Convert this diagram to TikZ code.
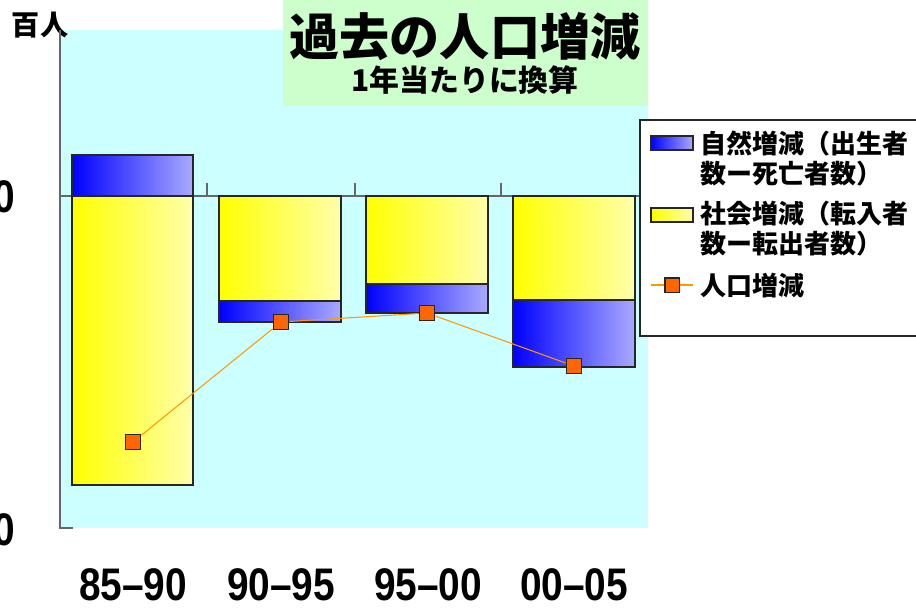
\documentclass[tikz,border=0pt]{standalone}
\usepackage{fontspec}
\newfontfamily\jp{Noto Sans CJK JP}
\newfontfamily\numfont{Liberation Sans}
\usetikzlibrary{positioning}
\definecolor{plotbg}{RGB}{204,255,255}
\definecolor{titlebg}{RGB}{204,255,204}
\definecolor{paleblue}{RGB}{170,170,255}
\definecolor{paleyellow}{RGB}{255,255,170}
\definecolor{markorange}{RGB}{255,102,0}
\definecolor{lineorange}{RGB}{255,153,0}
\tikzstyle{natbar} = [draw=black!85, line width=0.8pt, left color=blue, right color=paleblue]
\tikzstyle{socbar} = [draw=black!85, line width=0.8pt, left color=yellow, right color=paleyellow]
\tikzstyle{popmark} = [draw=black!85, line width=0.6pt, fill=markorange,
    rectangle, minimum size=9pt, inner sep=0pt]
\tikzstyle{popline} = [draw=lineorange, line width=0.6pt]
\tikzstyle{axisline} = [draw=black!60, line width=0.7pt]
\tikzstyle{period} = [font=\numfont\bfseries\fontsize{26}{26}\selectfont, xscale=0.85]
\tikzstyle{legtext} = [font=\jp\bfseries\fontsize{14.8}{17}\selectfont, anchor=west,
    align=left, inner sep=0pt]

\begin{document}
\begin{tikzpicture}[x=0.02cm, y=-0.02cm]
\useasboundingbox (0,0) rectangle (916,609);
\clip (0,0) rectangle (916,609);

% plot area and title
\fill[plotbg] (60,30) rectangle (648,528);
\fill[titlebg] (283,0) rectangle (648,106);
\node[font=\jp\bfseries\fontsize{28.5}{28.5}\selectfont] (title) at (465,37) {過去の人口増減};
\node[font=\jp\bfseries\fontsize{17}{17}\selectfont] (subtitle) at (465,80) {1年当たりに換算};
\node[font=\jp\bfseries\fontsize{16}{16}\selectfont] (unit) at (40,25) {百人};

% axes
\draw[axisline] (60,30) -- (60,528) -- (73,528);
\draw[axisline] (60,196) -- (640,196);
\foreach \x in {60,207,355,501}
  \draw[axisline] (\x,183) -- (\x,196);

% bars
\filldraw[natbar] (72,155) rectangle (193,196);
\filldraw[socbar] (72,196) rectangle (193,485);
\filldraw[socbar] (219,196) rectangle (341,301);
\filldraw[natbar] (219,301) rectangle (341,322);
\filldraw[socbar] (366,196) rectangle (488,284);
\filldraw[natbar] (366,284) rectangle (488,313);
\filldraw[socbar] (513,196) rectangle (635,300);
\filldraw[natbar] (513,300) rectangle (635,367);

% population change
\node[popmark] (p1) at (133,442) {};
\node[popmark] (p2) at (281,322) {};
\node[popmark] (p3) at (427,313) {};
\node[popmark] (p4) at (574,366) {};
\draw[popline] (p1) -- (p2) -- (p3) -- (p4);

% legend
\filldraw[fill=white, draw=black!85, line width=0.7pt] (640,120) rectangle (925,336);
\filldraw[natbar, line width=0.6pt] (651,136) rectangle (693,150);
\node[legtext] (leg1) at (700,159) {自然増減（出生者\\数ー死亡者数）};
\filldraw[socbar, line width=0.6pt] (651,208) rectangle (693,222);
\node[legtext] (leg2) at (700,229) {社会増減（転入者\\数ー転出者数）};
\coordinate (la) at (651,285);
\coordinate (lb) at (693,285);
\draw[popline] (la) -- (lb);
\node[popmark, minimum size=8pt] (lm) at (672,285) {};
\node[legtext] (leg3) at (700,286) {人口増減};

% category labels
\node[period] (c1) at (133,585) {85–90};
\node[period] (c2) at (281,585) {90–95};
\node[period] (c3) at (428,585) {95–00};
\node[period] (c4) at (574,585) {00–05};

% value labels cut at the left edge
\node[period, anchor=east] (v1) at (20,197) {0};
\node[period, anchor=east] (v2) at (20,530) {0};
\end{tikzpicture}
\end{document}
